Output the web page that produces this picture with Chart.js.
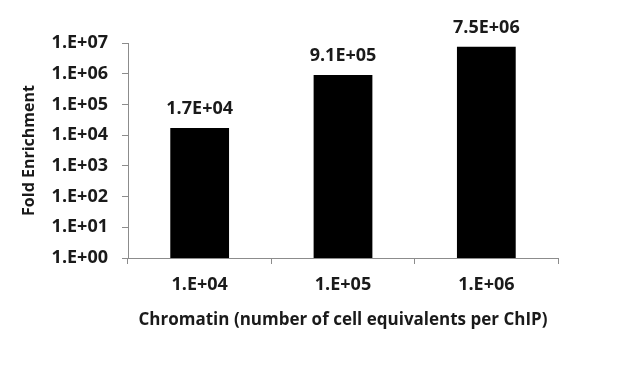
<!DOCTYPE html>
<html>
<head>
<meta charset="utf-8">
<script src="https://cdn.jsdelivr.net/npm/chart.js@4.4.1/dist/chart.umd.min.js"></script>
<style>
  html, body { margin: 0; padding: 0; background: #fff; }
  #wrap { width: 640px; height: 380px; position: relative; }
</style>
</head>
<body>
<div id="wrap"><canvas id="c"></canvas></div>
<script>
// ===== Fold enrichment vs chromatin amount =====
const categories = ['1.E+04', '1.E+05', '1.E+06'];
const foldEnrichment = [1.7e4, 9.1e5, 7.5e6];
const barLabels = ['1.7E+04', '9.1E+05', '7.5E+06'];
const yTicks = [1, 1e1, 1e2, 1e3, 1e4, 1e5, 1e6, 1e7];
const yTickLabels = ['1.E+00', '1.E+01', '1.E+02', '1.E+03', '1.E+04', '1.E+05', '1.E+06', '1.E+07'];

const FONT = '"Open Sans", "Liberation Sans", sans-serif';
const INK = '#1a1a1a';
const AXIS = '#8c8c8c';

// value labels above each bar
const barText = {
    id: 'barText',
    afterDatasetsDraw(chart) {
        const { ctx } = chart;
        const meta = chart.getDatasetMeta(0);
        ctx.save();
        ctx.font = `bold 18px ${FONT}`;
        ctx.fillStyle = INK;
        ctx.textAlign = 'center';
        ctx.textBaseline = 'bottom';
        meta.data.forEach((bar, i) => ctx.fillText(barLabels[i], bar.x, bar.y - 10));
        ctx.restore();
    }
};

new Chart(document.getElementById('c'), {
    type: 'bar',
    data: {
        labels: categories,
        datasets: [{ data: foldEnrichment, backgroundColor: '#000', borderWidth: 0,
            barPercentage: 0.41, categoryPercentage: 1 }]
    },
    options: {
        responsive: true, maintainAspectRatio: false, animation: false,
        layout: { padding: { top: 43, right: 82, bottom: 46, left: 16 } },
        plugins: { legend: { display: false }, tooltip: { enabled: false } },
        scales: {
            x: {
                grid: { display: true, drawOnChartArea: false, drawTicks: true, tickLength: 6, color: AXIS, offset: true },
                border: { color: AXIS },
                ticks: { color: INK, font: { family: FONT, size: 18, weight: 'bold' }, padding: 10 },
                title: { display: true, text: 'Chromatin (number of cell equivalents per ChIP)',
                    color: INK, font: { family: FONT, size: 17, weight: 'bold' }, padding: { top: 4 } }
            },
            y: {
                type: 'logarithmic', min: 1, max: 1e7,
                afterBuildTicks: s => { s.ticks = yTicks.map(v => ({ value: v })); },
                afterFit: s => { s.width = 112; },
                grid: { display: true, drawOnChartArea: false, drawTicks: true, tickLength: 6, color: AXIS },
                border: { color: AXIS },
                ticks: { color: INK, font: { family: FONT, size: 18, weight: 'bold' }, padding: 14,
                    callback: (v, i) => yTickLabels[i] },
                title: { display: true, text: 'Fold Enrichment', color: INK,
                    font: { family: FONT, size: 16, weight: 'bold' }, padding: { bottom: 4 } }
            }
        }
    },
    plugins: [barText]
});
</script>
</body>
</html>
